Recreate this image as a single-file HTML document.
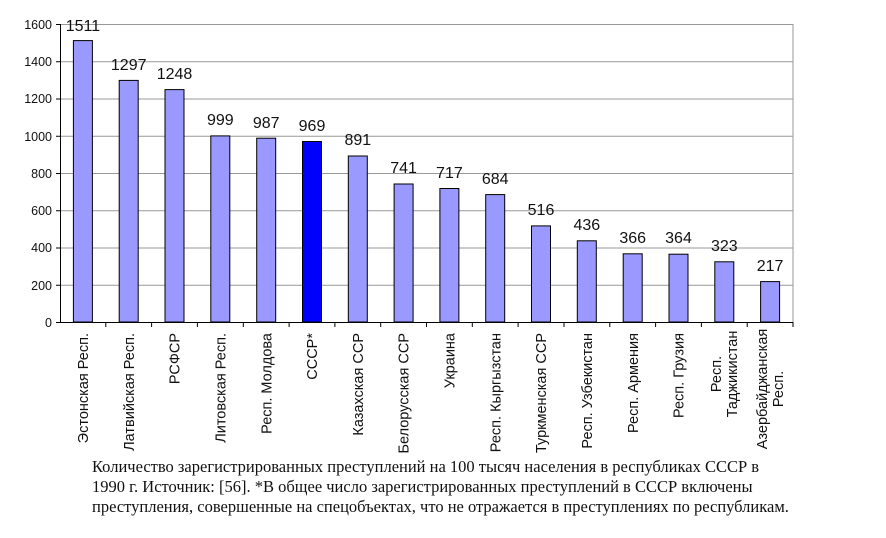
<!DOCTYPE html>
<html><head><meta charset="utf-8"><style>
body{margin:0;background:#fff;width:886px;height:538px;overflow:hidden}
svg{display:block}
.v{font:16px "Liberation Sans",sans-serif;fill:#111;text-anchor:middle}
.t{font:12.5px "Liberation Sans",sans-serif;fill:#111;text-anchor:end}
.l{font:14.5px "Liberation Sans",sans-serif;fill:#111}
.c{font:16.5px "Liberation Serif",serif;fill:#111}
</style></head><body>
<svg width="886" height="538" viewBox="0 0 886 538">
<g stroke="#999" stroke-width="1">
<line x1="60" y1="24.5" x2="793" y2="24.5"/>
<line x1="60" y1="61.75" x2="793" y2="61.75"/>
<line x1="60" y1="99" x2="793" y2="99"/>
<line x1="60" y1="136.25" x2="793" y2="136.25"/>
<line x1="60" y1="173.5" x2="793" y2="173.5"/>
<line x1="60" y1="210.75" x2="793" y2="210.75"/>
<line x1="60" y1="248" x2="793" y2="248"/>
<line x1="60" y1="285.25" x2="793" y2="285.25"/>
<line x1="793" y1="24" x2="793" y2="322"/>
</g>
<g stroke="#000" stroke-width="1">
<line x1="60.5" y1="24" x2="60.5" y2="322"/>
<line x1="60" y1="322.5" x2="793" y2="322.5"/>
<line x1="56" y1="24.5" x2="60" y2="24.5"/><line x1="56" y1="61.75" x2="60" y2="61.75"/><line x1="56" y1="99" x2="60" y2="99"/><line x1="56" y1="136.25" x2="60" y2="136.25"/><line x1="56" y1="173.5" x2="60" y2="173.5"/><line x1="56" y1="210.75" x2="60" y2="210.75"/><line x1="56" y1="248" x2="60" y2="248"/><line x1="56" y1="285.25" x2="60" y2="285.25"/><line x1="56" y1="322.5" x2="60" y2="322.5"/>
<line x1="105.8" y1="322" x2="105.8" y2="327"/><line x1="151.6" y1="322" x2="151.6" y2="327"/><line x1="197.4" y1="322" x2="197.4" y2="327"/><line x1="243.3" y1="322" x2="243.3" y2="327"/><line x1="289.1" y1="322" x2="289.1" y2="327"/><line x1="334.9" y1="322" x2="334.9" y2="327"/><line x1="380.7" y1="322" x2="380.7" y2="327"/><line x1="426.5" y1="322" x2="426.5" y2="327"/><line x1="472.3" y1="322" x2="472.3" y2="327"/><line x1="518.1" y1="322" x2="518.1" y2="327"/><line x1="564" y1="322" x2="564" y2="327"/><line x1="609.8" y1="322" x2="609.8" y2="327"/><line x1="655.6" y1="322" x2="655.6" y2="327"/><line x1="701.4" y1="322" x2="701.4" y2="327"/><line x1="747.2" y1="322" x2="747.2" y2="327"/><line x1="793" y1="322" x2="793" y2="327"/>
</g>
<g>
<text x="52" y="29" class="t">1600</text><text x="52" y="66" class="t">1400</text><text x="52" y="103" class="t">1200</text><text x="52" y="141" class="t">1000</text><text x="52" y="178" class="t">800</text><text x="52" y="215" class="t">600</text><text x="52" y="252" class="t">400</text><text x="52" y="290" class="t">200</text><text x="52" y="327" class="t">0</text>
</g>
<g fill="#9999ff" stroke="#000" stroke-width="1">
<rect x="73.4" y="40.6" width="19" height="281.4"/>
<rect x="119.2" y="80.4" width="19" height="241.6"/>
<rect x="165" y="89.6" width="19" height="232.4"/>
<rect x="210.8" y="135.9" width="19" height="186.1"/>
<rect x="256.7" y="138.2" width="19" height="183.8"/>
<rect x="302.5" y="141.5" width="19" height="180.5" fill="#0000ff"/>
<rect x="348.3" y="156" width="19" height="166"/>
<rect x="394.1" y="184" width="19" height="138"/>
<rect x="439.9" y="188.5" width="19" height="133.5"/>
<rect x="485.7" y="194.6" width="19" height="127.4"/>
<rect x="531.5" y="225.9" width="19" height="96.1"/>
<rect x="577.3" y="240.8" width="19" height="81.2"/>
<rect x="623.2" y="253.8" width="19" height="68.2"/>
<rect x="669" y="254.2" width="19" height="67.8"/>
<rect x="714.8" y="261.8" width="19" height="60.2"/>
<rect x="760.6" y="281.6" width="19" height="40.4"/>
</g>
<g class="v">
<text x="82.9" y="31">1511</text><text x="128.7" y="70">1297</text><text x="174.5" y="79">1248</text><text x="220.3" y="125">999</text><text x="266.2" y="128">987</text><text x="312" y="131">969</text><text x="357.8" y="145">891</text><text x="403.6" y="173">741</text><text x="449.4" y="178">717</text><text x="495.2" y="184">684</text><text x="541" y="215">516</text><text x="586.8" y="230">436</text><text x="632.7" y="243">366</text><text x="678.5" y="243">364</text><text x="724.3" y="251">323</text><text x="770.1" y="271">217</text>
</g>
<g class="l" text-anchor="end">
<text transform="translate(88,333) rotate(-90)">Эстонская Респ.</text>
<text transform="translate(133.8,333) rotate(-90)">Латвийская Респ.</text>
<text transform="translate(179.6,333) rotate(-90)">РСФСР</text>
<text transform="translate(225.4,333) rotate(-90)">Литовская Респ.</text>
<text transform="translate(271.3,333) rotate(-90)">Респ. Молдова</text>
<text transform="translate(317.1,333) rotate(-90)">СССР*</text>
<text transform="translate(362.9,333) rotate(-90)">Казахская ССР</text>
<text transform="translate(408.7,333) rotate(-90)">Белорусская ССР</text>
<text transform="translate(454.5,333) rotate(-90)">Украина</text>
<text transform="translate(500.3,333) rotate(-90)">Респ. Кыргызстан</text>
<text transform="translate(546.1,333) rotate(-90)">Туркменская ССР</text>
<text transform="translate(591.9,333) rotate(-90)">Респ. Узбекистан</text>
<text transform="translate(637.8,333) rotate(-90)">Респ. Армения</text>
<text transform="translate(683.6,333) rotate(-90)">Респ. Грузия</text>
<text transform="translate(721,374) rotate(-90)" text-anchor="middle">Респ.</text>
<text transform="translate(737,374) rotate(-90)" text-anchor="middle">Таджикистан</text>
<text transform="translate(767,389) rotate(-90)" text-anchor="middle">Азербайджанская</text>
<text transform="translate(783,389) rotate(-90)" text-anchor="middle">Респ.</text>
</g>
<g class="c">
<text x="92" y="472">Количество зарегистрированных преступлений на 100 тысяч населения в республиках СССР в</text>
<text x="92" y="492">1990 г.  Источник:  [56]. *В общее число зарегистрированных преступлений в СССР включены</text>
<text x="92" y="512">преступления, совершенные на спецобъектах, что не отражается в преступлениях по республикам.</text>
</g>
</svg>
</body></html>
